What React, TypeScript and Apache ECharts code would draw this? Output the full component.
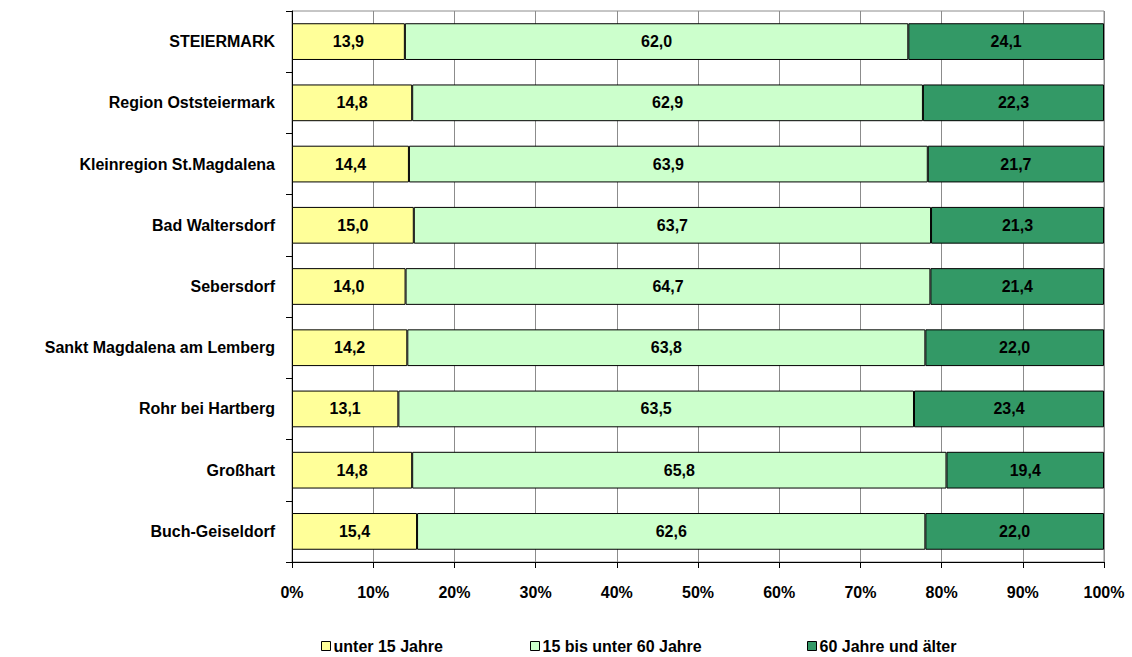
import React, { useEffect, useRef } from "react";
import * as echarts from "echarts";

const categories = [
  "STEIERMARK",
  "Region Oststeiermark",
  "Kleinregion St.Magdalena",
  "Bad Waltersdorf",
  "Sebersdorf",
  "Sankt Magdalena am Lemberg",
  "Rohr bei Hartberg",
  "Großhart",
  "Buch-Geiseldorf",
];
const under15 = [13.9, 14.8, 14.4, 15.0, 14.0, 14.2, 13.1, 14.8, 15.4];
const from15to60 = [62.0, 62.9, 63.9, 63.7, 64.7, 63.8, 63.5, 65.8, 62.6];
const over60 = [24.1, 22.3, 21.7, 21.3, 21.4, 22.0, 23.4, 19.4, 22.0];
const seriesNames = ["unter 15 Jahre", "15 bis unter 60 Jahre", "60 Jahre und älter"];
const xTicks = ["0%", "10%", "20%", "30%", "40%", "50%", "60%", "70%", "80%", "90%", "100%"];

const FONT = "Liberation Sans, Arial, sans-serif";
const colors = ["#FFFF99", "#CCFFCC", "#339966"];

export default function App() {
  const ref = useRef<HTMLDivElement>(null);
  useEffect(() => {
    if (!ref.current) return;
    const chart = echarts.init(ref.current, undefined, { renderer: "svg" });
    const raw = [under15, from15to60, over60];
    const totals = categories.map((_, i) => raw[0][i] + raw[1][i] + raw[2][i]);
    const legendLefts = [316, 525, 802];
    chart.setOption({
      animation: false,
      backgroundColor: "#ffffff",
      textStyle: { fontFamily: FONT },
      grid: {
        left: 292,
        right: 28,
        top: 11,
        bottom: 95,
        containLabel: false,
        show: true,
        borderColor: "#8c8c8c",
        borderWidth: 1,
        backgroundColor: "transparent",
      },
      legend: seriesNames.map((n, i) => ({
        data: [n],
        left: legendLefts[i],
        top: 633,
        icon: "rect",
        itemWidth: 9,
        itemHeight: 9,
        itemGap: 4,
        itemStyle: { borderColor: "#000", borderWidth: 1 },
        textStyle: { fontFamily: FONT, fontWeight: "bold", fontSize: 16, color: "#000", padding: [0, 0, 0, -2] },
      })),
      xAxis: {
        type: "value",
        min: 0,
        max: 100,
        interval: 10,
        axisLine: { show: true, lineStyle: { color: "#000", width: 1 } },
        axisTick: { show: true, length: 6, lineStyle: { color: "#000" } },
        splitLine: { show: true, lineStyle: { color: "#8c8c8c", width: 1 } },
        axisLabel: {
          margin: 22,
          fontFamily: FONT,
          fontWeight: "bold",
          fontSize: 16,
          color: "#000",
          formatter: (v: number) => xTicks[Math.round(v / 10)],
        },
      },
      yAxis: {
        type: "category",
        data: categories,
        inverse: true,
        axisLine: { show: true, lineStyle: { color: "#000", width: 1 } },
        axisTick: { show: true, length: 6, lineStyle: { color: "#000" } },
        splitLine: { show: false },
        axisLabel: {
          margin: 17,
          fontFamily: FONT,
          fontWeight: "bold",
          fontSize: 16,
          color: "#000",
        },
      },
      series: raw.map((arr, s) => ({
        name: seriesNames[s],
        type: "bar",
        stack: "total",
        barWidth: "60%",
        data: arr.map((v, i) => (v / totals[i]) * 100),
        itemStyle: { color: colors[s], borderColor: "#000", borderWidth: 1 },
        label: {
          show: true,
          position: "inside",
          fontFamily: FONT,
          fontWeight: "bold",
          fontSize: 16,
          color: "#000",
          formatter: (p: any) => arr[p.dataIndex].toFixed(1).replace(".", ","),
        },
      })),
    });
    return () => chart.dispose();
  }, []);
  return (
    <div
      ref={ref}
      style={{ position: "absolute", left: 0, top: 0, width: 1132, height: 657 }}
    />
  );
}
